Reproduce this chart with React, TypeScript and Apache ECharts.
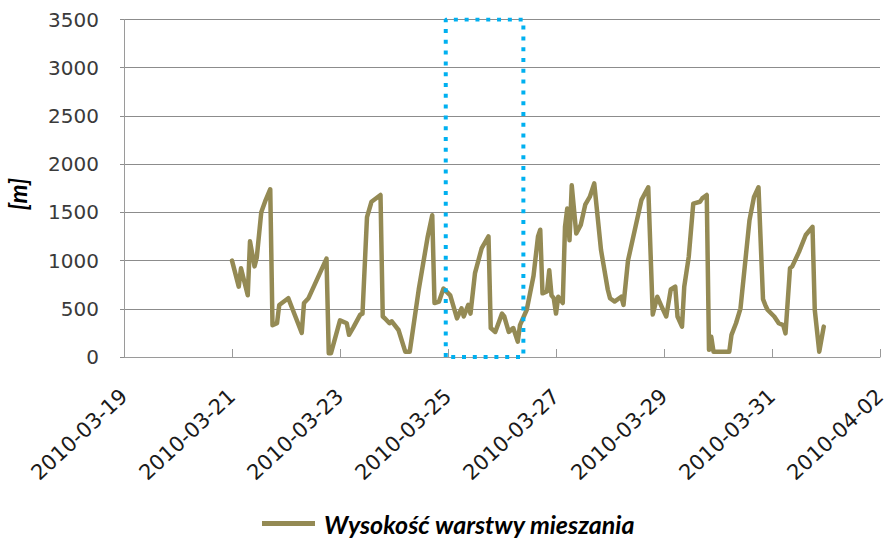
import React, { useEffect, useRef } from "react";
import * as echarts from "echarts";

const seriesName = "Wysokość warstwy mieszania";
const yAxisTitle = "[m]";

const times = [
  "2010-03-21 00:00", "2010-03-21 03:00", "2010-03-21 04:00", "2010-03-21 07:00", "2010-03-21 08:00",
  "2010-03-21 10:00", "2010-03-21 11:00", "2010-03-21 13:00", "2010-03-21 15:00", "2010-03-21 17:00",
  "2010-03-21 18:00", "2010-03-21 20:00", "2010-03-21 21:00", "2010-03-22 01:00", "2010-03-22 03:00",
  "2010-03-22 07:00", "2010-03-22 08:00", "2010-03-22 10:00", "2010-03-22 18:00", "2010-03-22 19:00",
  "2010-03-22 20:00", "2010-03-23 00:00", "2010-03-23 03:00", "2010-03-23 04:00", "2010-03-23 06:00",
  "2010-03-23 09:00", "2010-03-23 10:00", "2010-03-23 12:00", "2010-03-23 14:00", "2010-03-23 18:00",
  "2010-03-23 19:00", "2010-03-23 20:00", "2010-03-23 22:00", "2010-03-23 23:00", "2010-03-24 02:00",
  "2010-03-24 05:00", "2010-03-24 07:00", "2010-03-24 11:00", "2010-03-24 15:00", "2010-03-24 17:00",
  "2010-03-24 18:00", "2010-03-24 20:00", "2010-03-24 22:00", "2010-03-25 01:00", "2010-03-25 04:00",
  "2010-03-25 06:00", "2010-03-25 07:00", "2010-03-25 09:00", "2010-03-25 10:00", "2010-03-25 12:00",
  "2010-03-25 15:00", "2010-03-25 18:00", "2010-03-25 19:00", "2010-03-25 21:00", "2010-03-26 00:00",
  "2010-03-26 01:00", "2010-03-26 03:00", "2010-03-26 05:00", "2010-03-26 07:00", "2010-03-26 08:00",
  "2010-03-26 11:00", "2010-03-26 14:00", "2010-03-26 16:00", "2010-03-26 17:00", "2010-03-26 18:00",
  "2010-03-26 20:00", "2010-03-26 21:00", "2010-03-26 22:00", "2010-03-26 23:00", "2010-03-27 00:00",
  "2010-03-27 01:00", "2010-03-27 03:00", "2010-03-27 04:00", "2010-03-27 05:00", "2010-03-27 06:00",
  "2010-03-27 07:00", "2010-03-27 09:00", "2010-03-27 11:00", "2010-03-27 13:00", "2010-03-27 15:00",
  "2010-03-27 17:00", "2010-03-27 20:00", "2010-03-27 23:00", "2010-03-28 00:00", "2010-03-28 02:00",
  "2010-03-28 05:00", "2010-03-28 06:00", "2010-03-28 08:00", "2010-03-28 12:00", "2010-03-28 14:00",
  "2010-03-28 17:00", "2010-03-28 19:00", "2010-03-28 21:00", "2010-03-28 23:00", "2010-03-29 01:00",
  "2010-03-29 03:00", "2010-03-29 05:00", "2010-03-29 06:00", "2010-03-29 08:00", "2010-03-29 09:00",
  "2010-03-29 11:00", "2010-03-29 13:00", "2010-03-29 16:00", "2010-03-29 17:00", "2010-03-29 19:00",
  "2010-03-29 20:00", "2010-03-29 21:00", "2010-03-29 22:00", "2010-03-30 05:00", "2010-03-30 06:00",
  "2010-03-30 08:00", "2010-03-30 10:00", "2010-03-30 14:00", "2010-03-30 16:00", "2010-03-30 18:00",
  "2010-03-30 20:00", "2010-03-30 21:00", "2010-03-30 22:00", "2010-03-31 01:00", "2010-03-31 03:00",
  "2010-03-31 05:00", "2010-03-31 06:00", "2010-03-31 08:00", "2010-03-31 09:00", "2010-03-31 12:00",
  "2010-03-31 15:00", "2010-03-31 18:00", "2010-03-31 19:00", "2010-03-31 21:00", "2010-03-31 23:00",
];

const heights = [
  1000, 730, 920, 640, 1200,
  940, 1030, 1500, 1630, 1740,
  330, 350, 540, 610, 490,
  250, 560, 610, 1020, 40,
  40, 380, 350, 230, 310,
  440, 450, 1450, 1610, 1680,
  420, 400, 350, 370, 280,
  55, 55, 700, 1250, 1470,
  560, 575, 710, 640, 400,
  505, 420, 540, 450, 870,
  1130, 1250, 300, 260, 450,
  420, 260, 300, 160, 330,
  490, 840, 1250, 1320, 660,
  680, 900, 640, 610, 450,
  625, 560, 1350, 1540, 1210,
  1780, 1280, 1370, 1580, 1660,
  1800, 1110, 700, 610, 575,
  625, 540, 1000, 1420, 1630,
  1760, 440, 625, 520, 420,
  700, 730, 420, 315, 730,
  1040, 1590, 1610, 1645, 1680,
  75, 210, 55, 55, 230,
  350, 505, 1420, 1660, 1760,
  600, 540, 490, 420, 350,
  330, 245, 920, 940, 1090,
  1265, 1350, 490, 55, 315,
];

const xAxisRange = ["2010-03-19 00:00", "2010-04-02 00:00"];
const xTickDays = 2;
const yAxisRange = [0, 3500];
const yTickStep = 500;

const highlightTimes = ["2010-03-24 23:00", "2010-03-26 09:30"];
const highlightValues = [0, 3500];

const DAY = 86400000;

function toMs(s: string): number {
  const [d, t] = s.split(" ");
  const [Y, M, D] = d.split("-").map(Number);
  const [h, m] = (t || "00:00").split(":").map(Number);
  return Date.UTC(Y, M - 1, D, h, m);
}

function fmtDate(ms: number): string {
  const d = new Date(ms);
  const p = (n: number) => String(n).padStart(2, "0");
  return `${d.getUTCFullYear()}-${p(d.getUTCMonth() + 1)}-${p(d.getUTCDate())}`;
}

export default function App() {
  const ref = useRef<HTMLDivElement>(null);

  useEffect(() => {
    if (!ref.current) return;
    const chart = echarts.init(ref.current, undefined, { renderer: "svg" });

    const lineData = times.map((t, i) => [toMs(t), heights[i]]);
    const x0 = toMs(highlightTimes[0]);
    const x1 = toMs(highlightTimes[1]);
    const rectData = [
      [x0, highlightValues[0]],
      [x0, highlightValues[1]],
      [x1, highlightValues[1]],
      [x1, highlightValues[0]],
      [x0, highlightValues[0]],
    ];

    chart.setOption({
      animation: false,
      backgroundColor: "#ffffff",
      grid: { left: 124, right: 10, top: 19.5, bottom: 186 },
      legend: {
        data: [seriesName],
        left: 262,
        top: 511,
        padding: 0,
        icon: "rect",
        itemWidth: 53,
        itemHeight: 5,
        textStyle: {
          fontFamily: "Lato",
          fontStyle: "italic",
          fontWeight: "bold",
          fontSize: 25,
          color: "#000000",
          padding: [0, 0, 0, 4],
        },
      },
      xAxis: {
        type: "value",
        min: toMs(xAxisRange[0]),
        max: toMs(xAxisRange[1]),
        interval: xTickDays * DAY,
        axisLine: { show: true, lineStyle: { color: "#9a9a9a", width: 1 } },
        axisTick: { show: true, inside: true, length: 8, lineStyle: { color: "#9a9a9a" } },
        splitLine: { show: false },
        axisLabel: {
          rotate: 43,
          margin: 36,
          fontFamily: "DejaVu Sans",
          fontSize: 21,
          color: "#1a1a1a",
          formatter: (v: number) => fmtDate(v),
          showMinLabel: true,
          showMaxLabel: true,
        },
      },
      yAxis: {
        type: "value",
        min: yAxisRange[0],
        max: yAxisRange[1],
        interval: yTickStep,
        axisLine: { show: true, lineStyle: { color: "#9a9a9a", width: 1 } },
        axisTick: { show: true, inside: false, length: 4, lineStyle: { color: "#8c8c8c" } },
        splitLine: { show: true, lineStyle: { color: "#8c8c8c", width: 1 } },
        axisLabel: {
          margin: 25,
          fontFamily: "DejaVu Sans",
          fontSize: 20,
          color: "#3a3a3a",
          formatter: (v: number) => String(v),
        },
      },
      graphic: [
        {
          type: "text",
          x: 17,
          y: 194,
          rotation: Math.PI / 2,
          style: {
            text: yAxisTitle,
            fontFamily: "Lato",
            fontStyle: "italic",
            fontWeight: "bold",
            fontSize: 24,
            fill: "#000000",
            align: "center",
            verticalAlign: "middle",
          },
        },
      ],
      series: [
        {
          name: seriesName,
          type: "line",
          data: lineData,
          showSymbol: false,
          symbol: "none",
          lineStyle: { color: "#948a54", width: 4.5, join: "round", cap: "round" },
          itemStyle: { color: "#948a54" },
          z: 2,
        },
        {
          name: "highlight",
          type: "line",
          data: rectData,
          showSymbol: false,
          symbol: "none",
          silent: true,
          lineStyle: { color: "#00b0f0", width: 4, type: [4, 6.8], cap: "butt" },
          itemStyle: { color: "#00b0f0" },
          z: 3,
        },
      ],
    });

    return () => chart.dispose();
  }, []);

  return (
    <div
      ref={ref}
      style={{ position: "fixed", left: 0, top: 0, width: 890, height: 543 }}
    />
  );
}
